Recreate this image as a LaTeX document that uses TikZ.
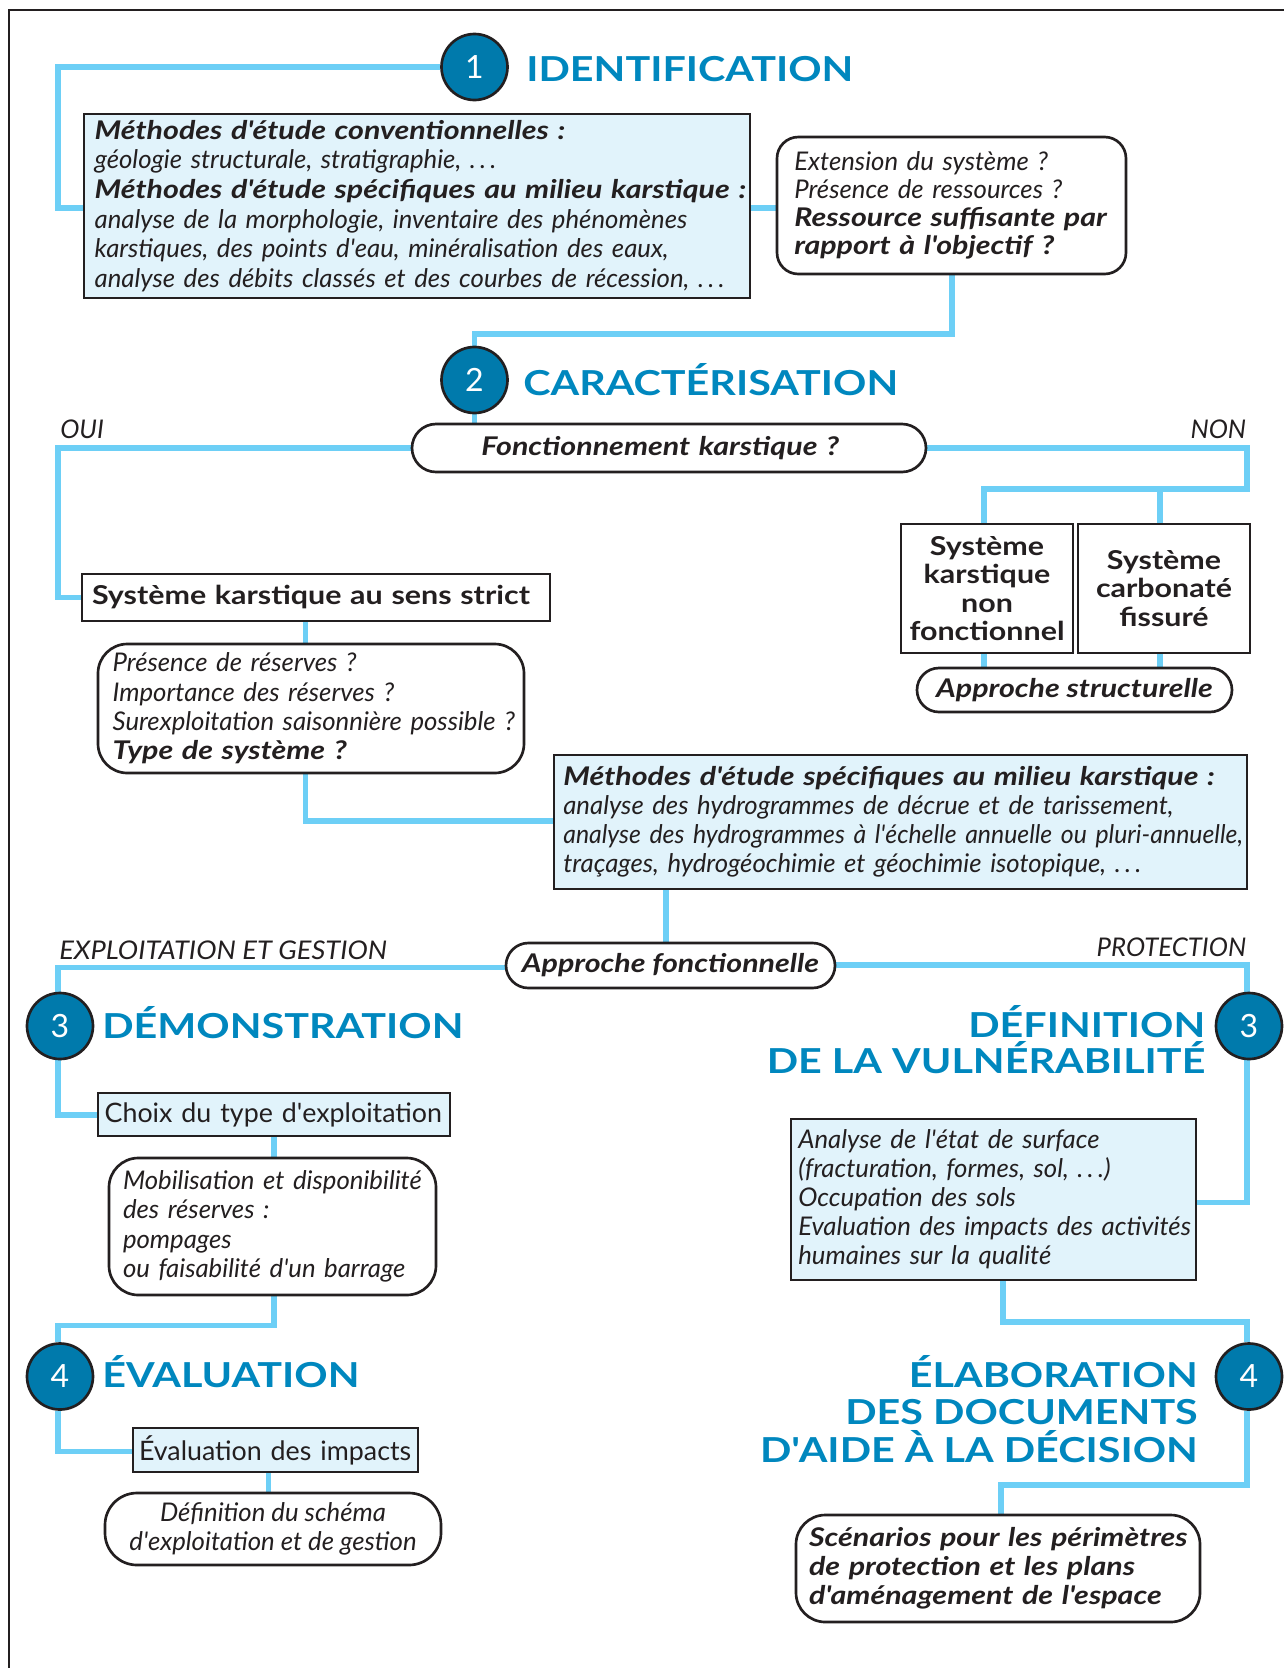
\documentclass[tikz,border=0pt]{standalone}
\usepackage{fontspec}
\setmainfont{Lato}[BoldFeatures={FakeStretch=1.17},BoldItalicFeatures={FakeStretch=1.18}]
\newfontfamily\titlefamily{Lato}[BoldFeatures={FakeStretch=1.2}]
\usetikzlibrary{backgrounds,calc}
\definecolor{conncol}{RGB}{109,207,246}
\definecolor{boxfill}{RGB}{225,243,251}
\definecolor{circfill}{RGB}{0,122,172}
\definecolor{titlecol}{RGB}{0,135,190}
\definecolor{ink}{RGB}{35,31,32}
\newcommand\ftIt{\fontsize{19.3}{22}\selectfont\itshape}
\newcommand\ftUp{\fontsize{20.1}{24}\selectfont}
\newcommand\ftBf{\fontsize{19.5}{21.4}\selectfont\bfseries}
\newcommand\LL[1]{\mbox{#1}}
\newcommand\ap{\textquotesingle}
\tikzset{
  conn/.style={draw=conncol, line width=3.9pt},
  bx/.style={draw=ink, line width=2pt, inner ysep=0pt, text=ink, align=left},
  bluebox/.style={bx, fill=boxfill},
  whitebox/.style={bx, fill=white},
  roundbox/.style={bx, fill=white, rounded corners=#1},
  numcirc/.style={circle, draw=ink, line width=2pt, fill=circfill, minimum size=49.5pt,
    inner sep=0pt, text=white, font=\fontsize{24}{24}\selectfont},
  title/.style={text=titlecol, font=\fontsize{25.8}{30}\selectfont\titlefamily\bfseries, inner sep=0pt},
  lbl/.style={text=ink, font=\ftIt, inner sep=0pt}
}
\begin{document}
\begin{tikzpicture}[x=0.75pt,y=-0.75pt]
\useasboundingbox (0,0) rectangle (1284,1668);
\draw[ink, line width=2pt] (9,1668) -- (9,10) -- (1284,10);

% numbered circles and titles
\node[numcirc] (c1) at (474.5,67) {1};
\node[title, anchor=base west] (t1) at (526,81) {IDENTIFICATION};
\node[numcirc] (c2) at (474.5,380) {2};
\node[title, anchor=base west] (t2) at (523,395) {CARACTÉRISATION};
\node[numcirc] (c3l) at (60,1026) {3};
\node[title, anchor=base west] (t3l) at (102,1038) {DÉMONSTRATION};
\node[numcirc] (c3r) at (1249,1026) {3};
\node[title, anchor=base east] (t3r) at (1205.5,1037) {DÉFINITION};
\node[title, anchor=base east] (t3rb) at (1205.5,1073) {DE LA VULNÉRABILITÉ};
\node[numcirc] (c4l) at (60,1376.5) {4};
\node[title, anchor=base west] (t4l) at (102,1387) {ÉVALUATION};
\node[numcirc] (c4r) at (1249,1376.5) {4};
\node[title, anchor=base east] (t4r) at (1198,1387) {ÉLABORATION};
\node[title, anchor=base east] (t4rb) at (1198,1424) {DES DOCUMENTS};
\node[title, anchor=base east] (t4rc) at (1198,1462) {D\ap AIDE À LA DÉCISION};

% boxes
\node[bluebox, minimum width=499.5pt, minimum height=138pt, inner xsep=8pt, text width=483.5pt,
  font=\fontsize{19.3}{22.3}\selectfont\itshape] (b1) at (417,206) {%
\LL{\textbf{Méthodes d\ap étude conventionnelles :}}\\
\LL{géologie structurale, stratigraphie, .\,.\,.}\\
\LL{\textbf{Méthodes d\ap étude spécifiques au milieu karstique :}}\\
\LL{analyse de la morphologie, inventaire des phénomènes}\\
\LL{karstiques, des points d\ap eau, minéralisation des eaux,}\\
\LL{analyse des débits classés et des courbes de récession, .\,.\,.}};

\node[roundbox=16pt, minimum width=261.75pt, minimum height=102.75pt, inner xsep=13pt, text width=235.75pt,
  font=\fontsize{19.3}{21}\selectfont\itshape] (b2) at (951.5,205.5) {%
\LL{Extension du système ?}\\
\LL{Présence de ressources ?}\\
\LL{\textbf{Ressource suffisante par}}\\
\LL{\textbf{rapport à l\ap objectif ?}}};

\node[roundbox=18pt, minimum width=385.5pt, minimum height=36pt, inner xsep=52pt, text width=281.5pt,
  font=\ftIt\bfseries] (fk) at (669,448) {\LL{Fonctionnement karstique ?}};

\node[whitebox, minimum width=351pt, minimum height=35.25pt, inner xsep=7.5pt, text width=336pt,
  font=\ftBf] (sk) at (316,597.5) {\LL{Système karstique au sens strict}};

\node[whitebox, minimum width=129pt, minimum height=96.75pt, inner xsep=2pt, text width=125pt,
  align=center, font=\ftBf] (skA) at (987,588.5) {Système\\karstique\\non\\fonctionnel};
\node[whitebox, minimum width=129pt, minimum height=96.75pt, inner xsep=2pt, text width=125pt,
  align=center, font=\ftBf] (skB) at (1164,588.5) {Système\\carbonaté\\fissuré};

\node[roundbox=16.5pt, minimum width=236.25pt, minimum height=33pt, inner xsep=0pt, align=center,
  font=\ftIt\bfseries] (asP) at (1074.5,690) {Approche structurelle};

\node[roundbox=22pt, minimum width=319.5pt, minimum height=96.75pt, inner xsep=11pt, text width=297.5pt,
  font=\ftIt] (pres) at (311,708.5) {%
\LL{Présence de réserves ?}\\
\LL{Importance des réserves ?}\\
\LL{Surexploitation saisonnière possible ?}\\
\LL{\textbf{Type de système ?}}};

\node[bluebox, minimum width=519.75pt, minimum height=100.5pt, inner xsep=7pt, text width=505.75pt,
  font=\fontsize{19.3}{21.8}\selectfont\itshape] (m2) at (900.5,822) {%
\LL{\textbf{Méthodes d\ap étude spécifiques au milieu karstique :}}\\
\LL{analyse des hydrogrammes de décrue et de tarissement,}\\
\LL{\addfontfeatures{FakeStretch=0.965}analyse des hydrogrammes à l\ap échelle annuelle ou pluri-annuelle,}\\
\LL{traçages, hydrogéochimie et géochimie isotopique, .\,.\,.}};

\node[roundbox=16.8pt, minimum width=246.75pt, minimum height=33.75pt, inner xsep=0pt, align=center,
  font=\ftIt\bfseries] (af) at (670.5,965.5) {Approche fonctionnelle};

\node[bluebox, minimum width=264pt, minimum height=32.25pt, inner xsep=5pt, text width=254pt,
  font=\ftUp] (choix) at (274,1114.5) {\LL{Choix du type d\ap exploitation}};

\node[roundbox=22pt, minimum width=245.25pt, minimum height=102.75pt, inner xsep=10.5pt, text width=224.25pt,
  font=\ftIt] (mob) at (272.5,1226.5) {%
\LL{Mobilisation et disponibilité}\\
\LL{des réserves :}\\
\LL{pompages}\\
\LL{ou faisabilité d\ap un barrage}};

\node[bluebox, minimum width=213.75pt, minimum height=33pt, inner xsep=4.5pt, text width=204.75pt,
  font=\ftUp] (ev) at (275.5,1450) {\LL{Évaluation des impacts}};

\node[roundbox=24pt, minimum width=252pt, minimum height=54pt, inner xsep=0pt, align=center,
  font=\ftIt] (def) at (273,1529) {Définition du schéma\\d\ap exploitation et de gestion};

\node[bluebox, minimum width=303.75pt, minimum height=120.75pt, inner xsep=5.5pt, text width=292.75pt,
  font=\fontsize{19.3}{21.8}\selectfont\itshape] (an) at (993.5,1199.5) {%
\LL{Analyse de l\ap état de surface}\\
\LL{(fracturation, formes, sol, .\,.\,.)}\\
\LL{Occupation des sols}\\
\LL{Evaluation des impacts des activités}\\
\LL{humaines sur la qualité}};

\node[roundbox=22pt, minimum width=303pt, minimum height=80.25pt, inner xsep=9.75pt, text width=283.5pt,
  font=\fontsize{19.3}{21.8}\selectfont\itshape\bfseries] (sc) at (998,1568.5) {%
\LL{Scénarios pour les périmètres}\\
\LL{de protection et les plans}\\
\LL{d\ap aménagement de l\ap espace}};

% free labels
\node[lbl, anchor=base west] (oui) at (60,438) {OUI};
\node[lbl, anchor=base east] (non) at (1246.5,438) {NON};
\node[lbl, anchor=base west] (expl) at (59,959) {\addfontfeatures{FakeStretch=1.06}EXPLOITATION ET GESTION};
\node[lbl, anchor=base east] (prot) at (1246.5,956) {PROTECTION};

% connectors
\begin{scope}[on background layer]
\coordinate (a1) at (58,67); \coordinate (a2) at (58,208);
\draw[conn] (c1) -- (a1) -- (a2) -- (b1.west |- a2);
\draw[conn] (b1.east |- a2) -- (b2.west |- a2);
\coordinate (a3) at (952,334); \coordinate (a4) at (474.5,334);
\draw[conn] (b2.south -| a3) -- (a3) -- (a4) -- (c2);
\draw[conn] (c2) -- (c2 |- fk.north);
\coordinate (a5) at (58,448); \coordinate (a6) at (58,597.5);
\draw[conn] (fk) -- (a5) -- (a6) -- (sk);
\coordinate (a7) at (1247,448); \coordinate (a8) at (1247,489);
\coordinate (a9) at (984,489); \coordinate (a10) at (1160,489);
\draw[conn] (fk) -- (a7) -- (a8) -- (a9) -- (a9 |- skA.north);
\draw[conn] (a10) -- (a10 |- skB.north);
\draw[conn] (skA.south -| a9) -- (a9 |- asP.north);
\draw[conn] (skB.south -| a10) -- (a10 |- asP.north);
\coordinate (a11) at (305.5,821);
\draw[conn] (sk.south -| a11) -- (a11 |- pres.north);
\draw[conn] (pres.south -| a11) -- (a11) -- (m2.west |- a11);
\coordinate (a12) at (666,900);
\draw[conn] (m2.south -| a12) -- (a12 |- af.north);
\coordinate (a13) at (58,967.7);
\draw[conn] (af.west |- a13) -- (a13) -- (a13 |- c3l.north);
\coordinate (a14) at (1247,965);
\draw[conn] (af.east |- a14) -- (a14) -- (a14 |- c3r.north);
\coordinate (a15) at (58,1115);
\draw[conn] (a13 |- c3l.south) -- (a15) -- (choix.west |- a15);
\coordinate (a16) at (274,1140);
\draw[conn] (choix.south -| a16) -- (a16 |- mob.north);
\coordinate (a17) at (274,1325.7); \coordinate (a18) at (58,1325.7);
\draw[conn] (mob.south -| a17) -- (a17) -- (a18) -- (a18 |- c4l.north);
\coordinate (a19) at (58,1451.7);
\draw[conn] (a18 |- c4l.south) -- (a19) -- (ev.west |- a19);
\coordinate (a20) at (268.6,1480);
\draw[conn] (ev.south -| a20) -- (a20 |- def.north);
\coordinate (a21) at (1247,1202.7);
\draw[conn] (a14 |- c3r.south) -- (a21) -- (an.east |- a21);
\coordinate (a22) at (1003,1322); \coordinate (a23) at (1247,1322);
\draw[conn] (an.south -| a22) -- (a22) -- (a23) -- (a23 |- c4r.north);
\coordinate (a24) at (1247,1485); \coordinate (a25) at (1001,1485);
\draw[conn] (a23 |- c4r.south) -- (a24) -- (a25) -- (a25 |- sc.north);
\end{scope}
\end{tikzpicture}
\end{document}
